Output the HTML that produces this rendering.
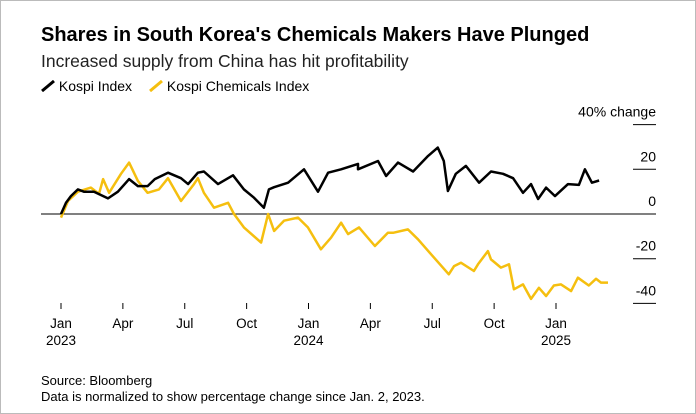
<!DOCTYPE html>
<html><head><meta charset="utf-8"><style>
body{margin:0;background:#fff;font-family:"Liberation Sans",sans-serif}
#w{position:relative;width:694px;height:412px;border:1px solid #bbb;overflow:hidden}
.t{position:absolute;white-space:nowrap;color:#000}
</style></head><body>
<div id="w">
<div class="t" style="left:40px;top:23px;font-size:20px;font-weight:bold">Shares in South Korea's Chemicals Makers Have Plunged</div>
<div class="t" style="left:40px;top:50px;font-size:17.5px;color:#222">Increased supply from China has hit profitability</div>
<div class="t" style="left:40px;top:77px;font-size:14px">
<svg width="14" height="12" style="vertical-align:-1px"><path d="M1 11 L13 1" stroke="#000" stroke-width="3"/></svg> Kospi Index</div>
<div class="t" style="left:148px;top:77px;font-size:14px">
<svg width="14" height="12" style="vertical-align:-1px"><path d="M1 11 L13 1" stroke="#f5bf0f" stroke-width="3"/></svg> Kospi Chemicals Index</div>
<svg id="c" width="694" height="412" style="position:absolute;left:0;top:0"></svg>
<div class="t" style="left:40px;top:372px;font-size:13px">Source: Bloomberg</div>
<div class="t" style="left:40px;top:388px;font-size:13px">Data is normalized to show percentage change since Jan. 2, 2023.</div>
</div>
<script>
const kospiMonths=[0,0.24,0.48,0.82,1.11,1.6,2.28,2.76,3.3,3.73,4.2,4.55,5.19,5.82,6.16,6.64,6.93,7.61,8.34,8.87,9.36,9.84,10.08,10.33,11.01,11.78,12.46,12.95,13.58,14.4,14.4,15.37,15.76,16.34,17.07,17.8,18.27,18.56,18.76,19.14,19.63,20.27,20.85,21.43,21.92,22.4,22.79,23.13,23.52,23.95,24.58,25.11,25.4,25.74,26.09];
const kospiVals=[0,5,8,11,10,10,7,10,15.6,12.5,12.5,15.6,18.5,16,13.4,18.5,19,13.4,17.3,11,7.3,2.8,11,12,14,20,10,18.5,20,22.4,20,23.7,17,23,19,26,29.7,23.7,10.3,18,21.5,14,19,18,16,9.5,13.4,6.7,11.8,8,13.4,13,20,14,15,18.5];
const chemMonths=[0,0.34,0.82,1.45,1.84,2.04,2.33,2.91,3.3,3.73,4.2,4.75,5.19,5.82,6.45,6.64,6.93,7.42,8.1,8.39,8.87,9.7,10.04,10.33,10.81,11.49,11.97,12.6,13.09,13.58,13.92,14.45,15.22,15.85,16.1,16.82,17.31,17.94,18.8,19.06,19.39,20.02,20.22,20.7,20.85,21.33,21.72,21.96,22.4,22.79,23.17,23.52,23.9,24.24,24.73,25.06,25.59,25.94,26.18,26.52];
const chemVals=[-1.6,5.8,10,11.8,9,15.6,9.5,18,23,14.8,9.5,11,16,5.8,13.4,16,9.5,2.8,5,0,-6,-12.8,0,-7.6,-3,-1.6,-6,-15.8,-10.6,-3.9,-9,-6,-14.3,-8.4,-8.4,-6.9,-11.3,-18,-27,-23.3,-21.8,-25.5,-22.5,-16.6,-20.3,-24,-22.5,-33.7,-31.5,-38,-33,-36.7,-32,-31.5,-34.5,-28.5,-32,-29,-30.7,-30.7];
const yTicks=[40,20,0,-20,-40];
const xTickMonths=[0,3,6,9,12,15,18,21,24];
const xTickLabels=["Jan","Apr","Jul","Oct","Jan","Apr","Jul","Oct","Jan"];
const xYearLabels={0:"2023",12:"2024",24:"2025"};
const NS="http://www.w3.org/2000/svg",svg=document.getElementById('c');
const X=m=>60+m*20.625, Y=v=>213-v*2.235;
function mk(tag,a,p){const e=document.createElementNS(NS,tag);for(const k in a)e.setAttribute(k,a[k]);(p||svg).appendChild(e);return e;}
yTicks.forEach(v=>{
 const l=mk('line',{x1:632,x2:655,y1:Y(v),y2:Y(v),stroke:'#000','stroke-width':1});
 
 
 const t=mk('text',{x:655,y:Y(v)-8,'text-anchor':'end','font-size':14,'font-family':'Liberation Sans'});
 t.textContent=v===40?'40% change':String(v);
 
 
});
const z=mk('line',{x1:40,x2:655,y1:Y(0),y2:Y(0),stroke:'#000','stroke-width':1});


xTickMonths.forEach((m,i)=>{
 const l=mk('line',{x1:X(m),x2:X(m),y1:302,y2:308,stroke:'#000','stroke-width':1});
 
 
 const t=mk('text',{x:X(m),y:327,'text-anchor':'middle','font-size':13.5,'font-family':'Liberation Sans'});
 t.textContent=xTickLabels[i];
 
 
 if(xYearLabels[m]){const y=mk('text',{x:X(m),y:344,'text-anchor':'middle','font-size':13.5,'font-family':'Liberation Sans'});y.textContent=xYearLabels[m];
 
 }
});
function line(ms,vs,col,name){
 const d=ms.map((m,i)=>(i?'L':'M')+X(m).toFixed(1)+' '+Y(vs[i]).toFixed(1)).join(' ');
 const p=mk('path',{d:d,fill:'none',stroke:col,'stroke-width':2.5,'stroke-linejoin':'round'});
 
 
}
line(chemMonths,chemVals,'#f5bf0f','kospi-chemicals-line');
line(kospiMonths,kospiVals,'#000','kospi-line');
</script>
</body></html>
